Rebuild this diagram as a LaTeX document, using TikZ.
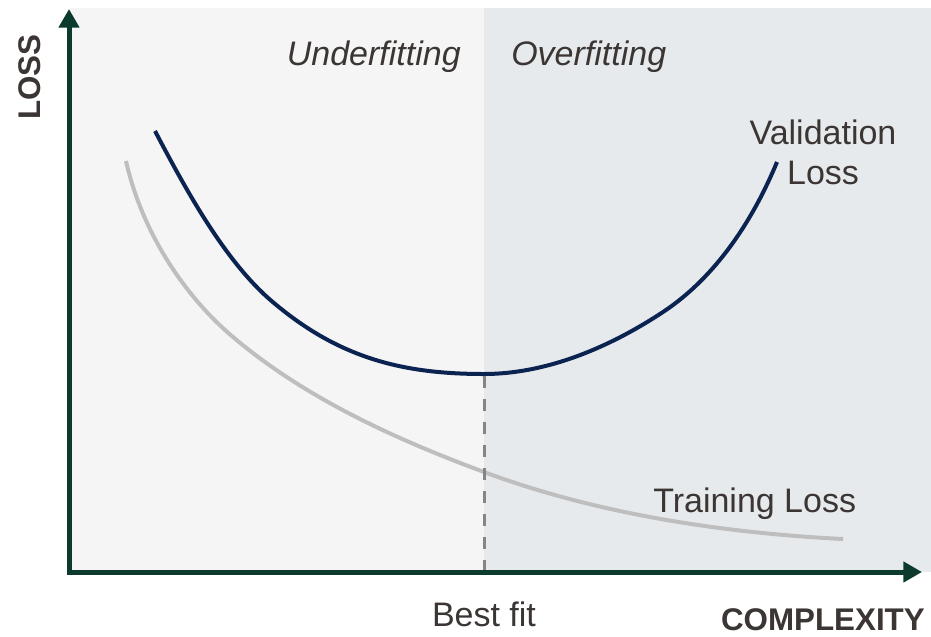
\documentclass[tikz,border=0pt]{standalone}
\usepackage{fontspec}
\setmainfont{Liberation Sans}
\usepackage{xcolor}
\usepackage{tikz}
\usetikzlibrary{arrows.meta, positioning}
\definecolor{axisgreen}{HTML}{0C3B2E}
\definecolor{valblue}{HTML}{0B2350}
\definecolor{traingray}{HTML}{BEBEBE}
\definecolor{dashgray}{HTML}{858585}
\definecolor{leftbg}{HTML}{F5F5F5}
\definecolor{rightbg}{HTML}{E7EAED}
\definecolor{textgray}{HTML}{3B3533}
\tikzstyle{txt} = [text=textgray, inner sep=0pt, font=\fontsize{25.5}{30}\selectfont]
\tikzstyle{axtitle} = [text=textgray, inner sep=0pt, font=\bfseries\fontsize{23.5}{28}\selectfont]
\tikzstyle{axisline} = [line width=3.75pt, draw=axisgreen, line cap=rect, -{Triangle[length=14pt, width=15pt]}]
\tikzstyle{valcurve} = [line width=3pt, draw=valblue]
\tikzstyle{traincurve} = [line width=3pt, draw=traingray]
\tikzstyle{bestline} = [line width=2.25pt, draw=dashgray, dash pattern=on 9pt off 8.25pt]

\begin{document}
\begin{tikzpicture}[x=0.75pt, y=-0.75pt]
            \useasboundingbox (0,0) rectangle (931,636);
            % Regions
            \fill[leftbg] (70,8) rectangle (484,572);
            \fill[rightbg] (484,8) rectangle (931,572);

            % Curves
            \draw[traincurve] (126,161) .. controls (141,228) and (181,293) .. (233,337)
                .. controls (305,398) and (395,439) .. (484,472)
                .. controls (597,514) and (723,533) .. (843,539);
            \draw[valcurve] (155,131) .. controls (185,188) and (222,256) .. (267,297)
                .. controls (335,357) and (400,374) .. (484,374)
                .. controls (547,374) and (610,347) .. (663,312)
                .. controls (716,277) and (753,220) .. (777,162);

            % Coordinates
            \coordinate (origin) at (69,572);
            \coordinate (ytip) at (69,9);
            \coordinate (xtip) at (922,572);
            \coordinate (minval) at (484,376);
            \coordinate (bestfoot) at (484,572);

            % Nodes
            \node[txt, anchor=base east] (under) at (461,65) {\itshape Underfitting};
            \node[txt, right=37.5pt of under.base east, anchor=base west] (over) {\itshape Overfitting};
            \node[txt, align=center] (valloss) at (823,152) {Validation\\Loss};
            \node[txt, anchor=base west] (trainloss) at (653,512) {Training Loss};
            \node[txt, below=22.5pt of bestfoot] (bestfit) {Best fit};
            \node[axtitle, anchor=base east] (complexity) at (925,630) {COMPLEXITY};
            \node[axtitle, rotate=90, anchor=base] (loss) at (40,77) {LOSS};

            % Arrows
            \draw[bestline] (minval) -- (bestfoot);
            \draw[axisline] (origin) -- (ytip);
            \draw[axisline] (origin) -- (xtip);
        \end{tikzpicture}
\end{document}
